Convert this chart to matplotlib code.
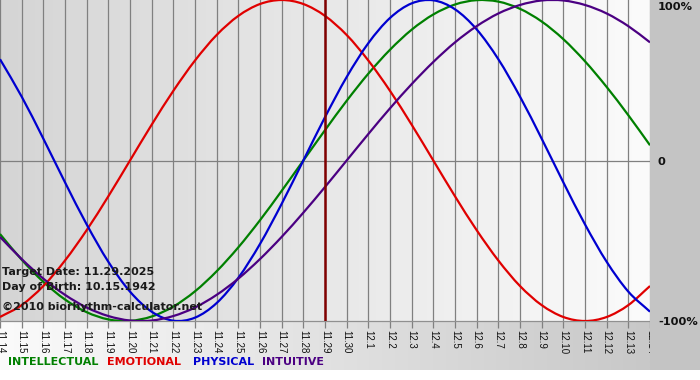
import matplotlib
matplotlib.use("Agg")
import matplotlib.pyplot as plt
import numpy as np
from matplotlib.patches import Rectangle, PathPatch
from matplotlib.path import Path

days = ["11.14", "11.15", "11.16", "11.17", "11.18", "11.19", "11.20", "11.21", "11.22",
        "11.23", "11.24", "11.25", "11.26", "11.27", "11.28", "11.29", "11.30", "12.1",
        "12.2", "12.3", "12.4", "12.5", "12.6", "12.7", "12.8", "12.9", "12.10", "12.11",
        "12.12", "12.13", "12.14"]

intellectual = [-0.458, -0.618, -0.756, -0.866, -0.945, -0.990, -0.999, -0.972, -0.910,
                -0.815, -0.690, -0.541, -0.372, -0.189, 0.0, 0.189, 0.372, 0.541, 0.690,
                0.815, 0.910, 0.972, 0.999, 0.990, 0.945, 0.866, 0.756, 0.618, 0.458,
                0.282, 0.095]
emotional = [-0.975, -0.901, -0.782, -0.623, -0.434, -0.223, 0.0, 0.223, 0.434, 0.623,
             0.782, 0.901, 0.975, 1.0, 0.975, 0.901, 0.782, 0.623, 0.434, 0.223, 0.0,
             -0.223, -0.434, -0.623, -0.782, -0.901, -0.975, -1.0, -0.975, -0.901, -0.782]
physical = [0.631, 0.398, 0.136, -0.136, -0.398, -0.631, -0.817, -0.942, -0.998, -0.979,
            -0.888, -0.731, -0.520, -0.270, 0.0, 0.270, 0.520, 0.731, 0.888, 0.979, 0.998,
            0.942, 0.817, 0.631, 0.398, 0.136, -0.136, -0.398, -0.631, -0.817, -0.942]
intuitive = [-0.476, -0.614, -0.736, -0.837, -0.916, -0.969, -0.997, -0.997, -0.969,
             -0.916, -0.837, -0.736, -0.614, -0.476, -0.325, -0.165, 0.0, 0.165, 0.325,
             0.476, 0.614, 0.736, 0.837, 0.916, 0.969, 0.997, 0.997, 0.969, 0.916, 0.837,
             0.736]

target_index = 15
series_names = ["INTELLECTUAL", "EMOTIONAL", "PHYSICAL", "INTUITIVE"]
colors = ["#008000", "#e00000", "#0000d0", "#4b0082"]
info_lines = ["Target Date: 11.29.2025", "Day of Birth: 10.15.1942",
              "\u00a92010 biorhythm-calculator.net"]

W, H = 700, 380
fig = plt.figure(figsize=(W / 100, H / 100), dpi=100)
fig.patch.set_facecolor("white")

def fx(px):
    return px / W

def fy(py):
    return 1 - py / H

def smooth_path(xs, ys):
    """Catmull-Rom style smooth path through the data points (Bezier rendering)."""
    p = np.column_stack([xs, ys]).astype(float)
    ext = np.vstack([2 * p[0] - p[1], p, 2 * p[-1] - p[-2]])
    verts = [tuple(p[0])]
    codes = [Path.MOVETO]
    for i in range(len(p) - 1):
        p0, p1, p2, p3 = ext[i], ext[i + 1], ext[i + 2], ext[i + 3]
        c1 = p1 + (p2 - p0) / 6.0
        c2 = p2 - (p3 - p1) / 6.0
        verts += [tuple(c1), tuple(c2), tuple(p2)]
        codes += [Path.CURVE4] * 3
    return Path(verts, codes)

plot_right = 650
plot_bottom = 321
band_bottom = 370

# right gray panel
fig.patches.append(Rectangle((fx(plot_right), fy(band_bottom)), 1 - fx(plot_right),
                             fy(0) - fy(band_bottom), transform=fig.transFigure,
                             facecolor="#c4c4c4", edgecolor="none", zorder=0))
# bottom band gradient
band_ax = fig.add_axes([0, fy(band_bottom), fx(plot_right), fy(plot_bottom) - fy(band_bottom)])
band_ax.set_axis_off()
grad = np.linspace(0, 1, 256).reshape(1, -1)
band_ax.imshow(grad, aspect="auto", cmap=matplotlib.colors.LinearSegmentedColormap.from_list(
    "b", ["#fbfbfb", "#c8c8c8"]), extent=[0, 1, 0, 1])
band_ax.set_xlim(0, 1)
band_ax.set_ylim(0, 1)

ax = fig.add_axes([0, fy(plot_bottom), fx(plot_right), fy(0) - fy(plot_bottom)])
x = np.arange(len(days))
ax.set_xlim(0, len(days) - 1)
ax.set_ylim(-1.0, 1.0)
ax.imshow(grad, aspect="auto", cmap=matplotlib.colors.LinearSegmentedColormap.from_list(
    "bg", ["#d5d5d5", "#fbfbfb"]), extent=[0, len(days) - 1, -1, 1], zorder=0)

for xi in x:
    ax.axvline(xi, color="#808080", lw=0.9, zorder=1)
ax.axhline(0, color="#808080", lw=0.9, zorder=1)

for vals, c in zip([intellectual, emotional, physical, intuitive], colors):
    ax.add_patch(PathPatch(smooth_path(x, vals), facecolor="none", edgecolor=c,
                           lw=1.6, zorder=3, clip_on=True))

ax.axvline(target_index, color="#800000", lw=1.8, zorder=4)

for s in ["top", "left", "right"]:
    ax.spines[s].set_visible(False)
ax.spines["bottom"].set_color("#909090")
ax.spines["bottom"].set_linewidth(0.9)
ax.set_yticks([])
ax.set_xticks(x)
ax.set_xticklabels(days, rotation=270, fontsize=7, family="Liberation Sans",
                   color="#111111")
ax.tick_params(axis="x", length=5, color="#808080", width=0.9, pad=1.5)

# info text
info_y = [272, 287, 307]
for t, yy in zip(info_lines, info_y):
    fig.text(fx(2), fy(yy), t, fontsize=8, fontweight="bold", color="#1a1a1a",
             va="center", ha="left", family="DejaVu Sans", zorder=10)

# right labels
for t, yy in zip(["100%", "0", "-100%"], [7, 162, 322]):
    fig.text(fx(658), fy(yy), t, fontsize=8.2, fontweight="bold", color="#111111",
             va="center", ha="left", family="DejaVu Sans")

# legend
for name, c, xx in zip(series_names, colors, [8, 107, 193, 262]):
    fig.text(fx(xx), fy(362), name, fontsize=8, fontweight="bold", color=c,
             va="center", ha="left", family="DejaVu Sans")

fig.savefig("out.png", dpi=100)
